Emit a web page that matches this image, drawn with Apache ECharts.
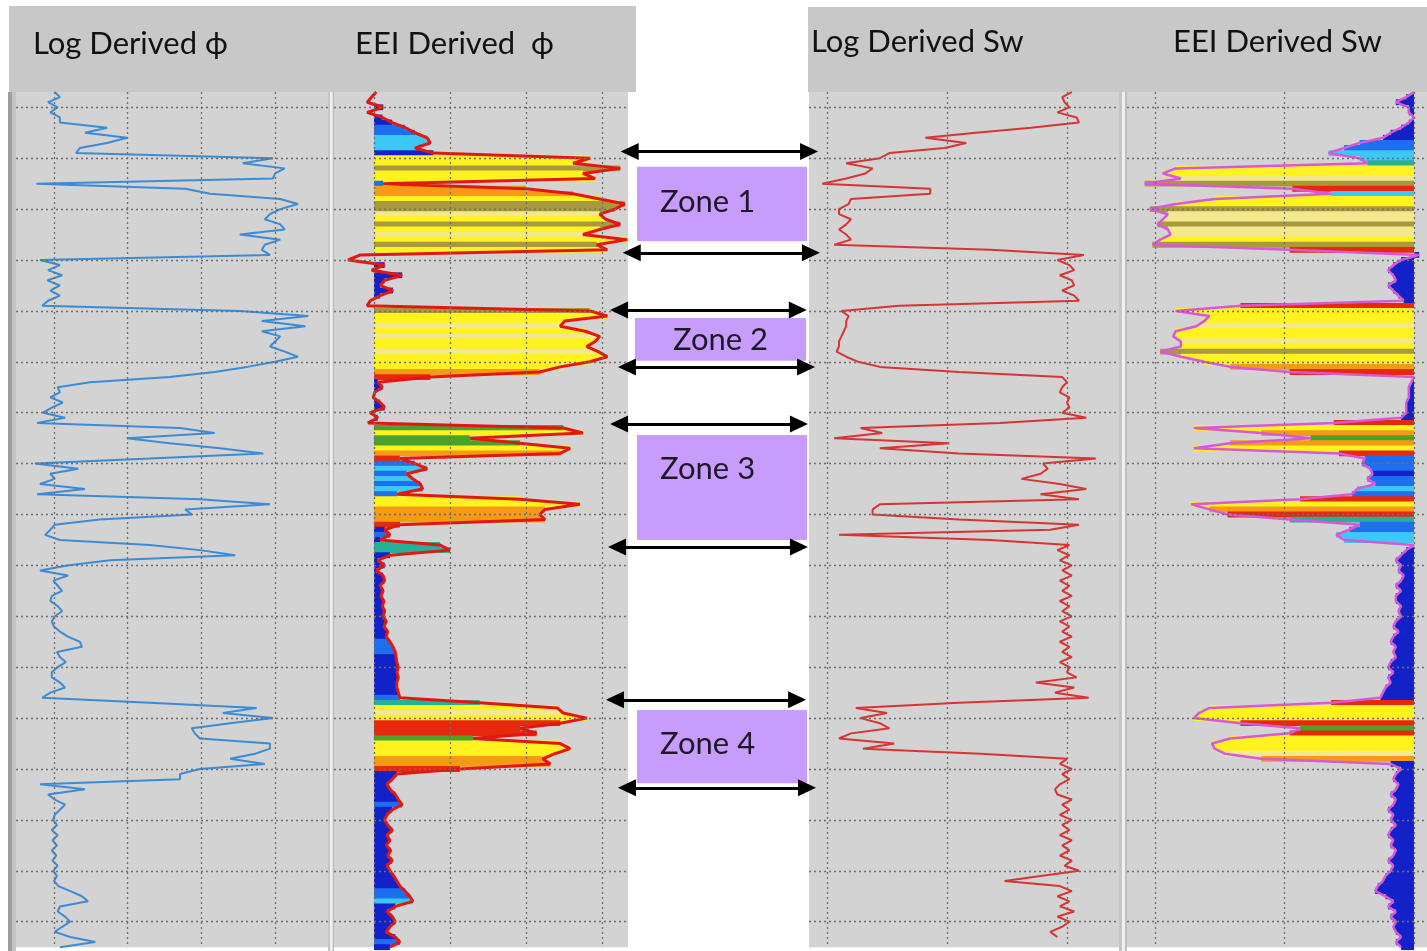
<!DOCTYPE html>
<html><head><meta charset="utf-8">
<script src="https://cdn.jsdelivr.net/npm/echarts@6/dist/echarts.min.js"></script>
<style>html,body{margin:0;padding:0;background:#fff}#c{width:1427px;height:951px}</style>
</head><body><div id="c"></div>
<script>
// ---------------- DATA ----------------
// sample depths (arbitrary depth units, 10 units between horizontal grid lines)
const depth = [
  7,8,9,10,11,12,13,14,15,16,
  17,18,19,20,21,22,23,24,25,26,
  27,28,29,30,31,32,33,34,35,36,
  37,38,39,40,41,42,43,44,45,46,
  47,48,49,50,51,52,53,54,55,56,
  57,58,59,60,61,62,63,64,65,66,
  67,68,69,70,71,72,73,74,75,76,
  77,78,79,80,81,82,83,84,85,86,
  87,88,89,90,91,92,93,94,95,96,
  97,98,99,100,101,102,103,104,105,106,
  107,108,109,110,111,112,113,114,115,116,
  117,118,119,120,121,122,123,124,125,126,
  127,128,129,130,131,132,133,134,135,136,
  137,138,139,140,141,142,143,144,145,146,
  147,148,149,150,151,152,153,154,155,156,
  157,158,159,160,161,162,163,164,165,166,
  167,168,169,170,171,172,173,174,175
];
// Log derived porosity (%)
const phiLog = [
  0.1,0.8,-0.8,0.5,-0.5,0.8,0.8,7.2,4.2,9.9,
  7.2,3.5,3.0,29.7,25.6,31.3,30.0,29.7,-2.4,17.8,
  21.2,30.7,33.1,30.7,29.3,28.6,30.7,31.3,25.2,30.7,
  28.6,28.2,29.3,-1.9,0.8,-0.8,1.1,-0.9,0.8,-0.5,
  0.8,-0.8,-1.6,25.2,34.5,28.2,34.1,28.2,30.7,30.0,
  29.3,31.3,33.1,30.0,26.2,21.8,15.7,4.9,0.5,0.8,
  -0.5,1.2,-0.3,-1.5,1.5,-2.3,17.1,21.8,9.9,15.7,
  22.5,28.4,13.0,-2.6,3.3,-0.5,0.1,-1.9,4.2,-2.3,
  19.8,29.3,17.8,18.7,6.2,0.1,-0.5,-1.2,0.8,13.0,
  19.8,24.6,7.6,1.8,-1.9,1.9,-0.1,0.5,1.1,-0.3,
  -0.5,0.5,1.1,0.1,-0.3,0.0,0.8,1.9,3.5,3.8,
  0.4,0.8,1.6,0.5,-0.3,-0.3,0.8,1.5,-0.5,-1.6,
  13.0,27.5,22.9,29.7,23.9,18.7,19.1,19.8,29.3,29.3,
  27.3,23.9,28.6,19.8,17.1,17.1,-1.9,4.2,-0.8,0.1,
  1.5,0.8,0.1,-0.1,0.4,-0.3,0.5,-0.2,0.4,-0.3,
  0.3,-0.2,0.5,-0.1,0.4,0.0,0.6,2.2,3.8,4.6,
  0.8,0.5,1.5,2.2,1.1,0.1,2.2,5.6,0.8
];
// EEI derived porosity (%)
const phiEEI = [
  0.3,-0.3,-0.9,1.2,-0.9,1.1,2.4,4.1,5.4,7.0,
  7.4,5.4,7.8,28.4,26.2,32.4,27.5,29.1,1.2,20.0,
  26.2,29.7,33.0,31.7,29.7,30.5,32.4,29.7,27.5,33.3,
  29.3,30.7,-1.8,-3.4,1.4,-0.3,3.7,1.4,0.8,2.5,
  0.8,-0.5,-0.9,28.4,30.7,25.1,24.5,27.8,29.7,29.1,
  28.0,29.5,30.7,28.4,24.5,21.8,7.4,0.5,1.1,0.1,
  -0.1,0.8,1.4,-0.5,0.5,-0.8,24.9,27.5,12.6,19.2,
  25.8,24.5,3.4,5.4,7.0,4.3,5.1,6.1,6.4,3.0,
  19.2,27.1,22.5,21.8,22.5,3.4,1.4,2.1,0.8,8.7,
  10.0,2.1,0.5,1.4,0.3,1.2,1.4,0.8,1.2,0.9,
  1.3,1.1,1.4,1.2,1.6,1.3,1.8,1.6,2.1,2.5,
  2.8,2.9,3.0,3.2,3.0,3.2,3.0,3.0,3.2,3.4,
  13.9,24.1,24.9,28.0,24.5,19.2,21.4,13.0,24.5,25.8,
  23.8,22.2,23.2,11.3,3.0,2.4,1.7,2.1,2.8,3.2,
  3.7,2.4,1.7,1.4,1.8,2.4,1.7,2.1,1.6,2.2,
  1.8,2.4,1.7,2.1,2.6,3.0,3.4,4.1,4.7,5.1,
  2.8,1.7,2.4,2.8,2.1,1.6,2.8,3.4,2.1
];
// EEI porosity colour class per depth
const phiEEIFacies = [
  "---d-ddbbc","ccdyyoyybn","nyoowyoywy","oy--d-dddd","d--oyywywy",
  "ywyyynrddd","-dd-d-gygg","ynrbcbcbcb","yynnnrdbdt","tddddddddd",
  "ddddddddbb","bddddddddb","tywyrrrgyy","ynnrdddddd","bddddddddd",
  "dddddddbbc","dddddddbd"
].join('');
// Log derived water saturation (fraction)
const swLog = [
  1.02,0.98,0.99,1.01,0.96,1.04,1.05,0.85,0.62,0.41,
  0.58,0.49,0.26,0.22,0.08,0.19,0.16,0.08,-0.02,0.43,
  0.43,0.10,0.09,0.05,0.05,0.10,0.08,0.05,0.08,0.10,
  0.03,0.68,1.07,0.96,1.01,1.03,0.97,1.02,1.03,0.98,
  1.03,1.05,0.30,0.06,0.09,0.08,0.08,0.07,0.06,0.05,
  0.05,0.04,0.08,0.13,0.22,0.55,0.98,1.00,0.98,0.97,
  1.01,1.00,1.01,0.98,1.08,0.72,0.14,0.23,0.03,0.51,
  0.22,0.55,1.12,0.90,0.92,0.89,0.81,0.97,1.08,0.89,
  1.05,0.22,0.19,0.19,0.55,1.05,0.93,0.05,0.68,1.01,
  0.96,1.01,0.97,1.02,0.98,1.02,0.97,1.01,0.98,1.02,
  0.97,1.01,0.98,1.02,0.97,1.01,0.98,1.02,0.97,1.01,
  0.98,1.02,0.97,1.01,1.00,1.04,0.87,1.03,0.95,1.09,
  0.55,0.12,0.25,0.14,0.22,0.26,0.10,0.05,0.28,0.15,
  0.64,1.00,0.97,1.02,0.98,1.01,0.97,0.95,0.96,1.02,
  0.98,1.01,0.97,1.02,0.98,1.01,0.97,1.02,0.98,1.01,
  0.97,1.02,0.99,1.05,0.89,0.74,0.97,1.02,0.96,1.01,
  0.97,1.03,0.96,1.01,0.98,0.93,0.96,null,null
];
// EEI derived water saturation (fraction)
const swEEI = [
  1.00,0.97,0.93,0.98,0.98,1.00,0.98,0.95,0.91,0.88,
  0.79,0.73,0.67,0.79,0.82,0.08,0.03,0.10,-0.04,0.53,
  0.68,0.23,0.08,-0.02,0.05,0.03,0.01,0.05,0.06,0.02,
  -0.01,0.52,1.02,0.95,0.92,0.90,0.92,0.93,0.90,0.92,
  0.94,0.96,0.33,0.08,0.21,0.19,0.16,0.08,0.07,0.10,
  0.10,0.02,0.10,0.19,0.29,0.52,1.00,0.99,0.98,0.98,
  0.98,0.97,0.97,0.97,0.95,0.69,0.15,0.41,0.60,0.29,
  0.15,0.71,0.81,0.80,0.83,0.84,0.82,0.85,0.78,0.76,
  0.56,0.14,0.21,0.28,0.52,0.79,0.75,0.70,0.73,1.00,
  0.97,0.95,0.93,0.95,0.94,0.96,0.95,0.93,0.95,0.93,
  0.93,0.95,0.94,0.95,0.93,0.92,0.94,0.92,0.91,0.93,
  0.92,0.93,0.91,0.90,0.92,0.90,0.91,0.89,0.88,0.87,
  0.68,0.21,0.17,0.15,0.33,0.56,0.52,0.29,0.22,0.23,
  0.27,0.41,0.91,0.95,0.93,0.92,0.94,0.93,0.91,0.93,
  0.92,0.90,0.92,0.91,0.93,0.91,0.90,0.92,0.91,0.93,
  0.92,0.90,0.92,0.91,0.89,0.88,0.86,0.85,0.89,0.92,
  0.90,0.93,0.91,0.93,0.92,0.93,0.95,0.93,0.95
];
const swEEIFacies = [
  "dddddddddd","bbcctyywor","cyyowwowwy","ordddddddd","ddryyywyyw",
  "yoyynrdddd","dddddryngn","yrbbbdbbcb","rynrtbbccd","dddddddddd",
  "dddddddddd","dddddddddd","ryyyrgryyy","wndddddddd","dddddddddd",
  "dddddddddd","ddddddddd"
].join('');

const phiTicks = [0, 10, 20, 30];
const swTicks = [0, 0.5, 1];
const depthTicks = [10,20,30,40,50,60,70,80,90,100,110,120,130,140,150,160,170];
const headers = ['Log Derived \u03d5', 'EEI Derived  \u03d5', 'Log Derived Sw', 'EEI Derived Sw'];
const zoneNames = ['Zone 1', 'Zone 2', 'Zone 3', 'Zone 4'];
const zoneTop = [21.7, 51.4, 74.4, 128.4];
const zoneBase = [36.3, 59.8, 95.0, 142.8];
const arrowTop = [18.7, 49.8, 72.2, 126.4];
const arrowBase = [38.6, 61.0, 96.4, 143.7];

// ---------------- LAYOUT / STYLE ----------------
const TOP = 92.03, H = 855.12;
const tracks = [
  {left: 16, right: 328, zero: 54, ppu: 7.37},
  {left: 334, right: 628, zero: 374, ppu: 7.6},
  {left: 809, right: 1119, zero: 827, ppu: 240},
  {left: 1127, right: 1427, zero: 1155, ppu: 259}
];
// annotation panel (spans the white gap and a little of the neighbouring tracks)
const mid = {left: 600, right: 830};
const faciesColor = {d:'#1222c8', b:'#1e6ef0', c:'#3cc8f5', y:'#fff21e', w:'#f3e88e', o:'#a89a3c',
  r:'#e8280c', n:'#f59a14', g:'#4aa22a', t:'#26b09a', '-':'rgba(0,0,0,0)'};
const arrowTopX = [[0.129, 0.909], [0.083, 0.860], [0.083, 0.865], [0.065, 0.857]];
const arrowBaseX = [[0.138, 0.917], [0.117, 0.896], [0.074, 0.865], [0.117, 0.900]];
const zoneX = [[0.161, 0.900], [0.152, 0.896], [0.161, 0.900], [0.161, 0.900]];
const zoneLabelPos = [['insideLeft', -2], ['inside', 1], ['insideLeft', -19], ['insideLeft', -3]];
const headerPos = [[33, 44], [355, 44], [811, 42], [1173, 42]];
const FONT = 'Lato, "DejaVu Sans", sans-serif';

const ext = t => [(t.left - t.zero) / t.ppu, (t.right - t.zero) / t.ppu];
const cats = depth.map(String);

const grids = tracks.map(t => ({left: t.left, top: TOP, width: t.right - t.left, height: H,
  show: true, backgroundColor: '#d3d3d3', borderWidth: 0}));
grids.push({left: mid.left, top: TOP, width: mid.right - mid.left, height: H, show: false});

const xAxes = tracks.map((t, i) => ({type: 'value', gridIndex: i, min: ext(t)[0], max: ext(t)[1], show: false}));
const e3 = ext(tracks[3]);
xAxes.push({type: 'value', gridIndex: 3, min: 1 - e3[1], max: 1 - e3[0], inverse: true, show: false});
xAxes.push({type: 'value', gridIndex: 4, min: 0, max: 1, show: false});

const yAxes = tracks.map((t, i) => ({type: 'category', gridIndex: i, data: cats, boundaryGap: false, inverse: true, show: false}));
yAxes.push({type: 'value', gridIndex: 4, min: depth[0], max: depth[depth.length - 1], inverse: true, show: false});

function gridLines(xTicks) {
  return {
    silent: true, symbol: ['none', 'none'], animation: false,
    label: {show: false}, emphasis: {disabled: true},
    lineStyle: {color: '#6e6e6e', type: [2, 3], width: 1.3},
    data: xTicks.map(v => ({xAxis: v})).concat(depthTicks.map(d => ({yAxis: String(d)})))
  };
}

const arrowData = [];
for (let i = 0; i < zoneNames.length; i++) {
  arrowData.push([{coord: [arrowTopX[i][0], arrowTop[i]]}, {coord: [arrowTopX[i][1], arrowTop[i]]}]);
  arrowData.push([{coord: [arrowBaseX[i][0], arrowBase[i]]}, {coord: [arrowBaseX[i][1], arrowBase[i]]}]);
}
const zoneData = zoneNames.map((n, i) => [
  {name: n, coord: [zoneX[i][0], zoneTop[i]],
   label: {show: true, position: zoneLabelPos[i][0], distance: 23, offset: [0, zoneLabelPos[i][1]],
     color: '#1c1826', fontSize: 31, fontFamily: FONT}},
  {coord: [zoneX[i][1], zoneBase[i]]}
]);

const graphics = [
  {type: 'rect', shape: {x: 9, y: 6, width: 627, height: 86}, style: {fill: '#c8c8c8'}},
  {type: 'rect', shape: {x: 808, y: 7, width: 619, height: 85}, style: {fill: '#c8c8c8'}},
  {type: 'rect', shape: {x: 8, y: 92, width: 4, height: 859}, style: {fill: '#9e9e9e'}},
  {type: 'rect', shape: {x: 12, y: 92, width: 4, height: 859}, style: {fill: '#c4c4c4'}},
  {type: 'rect', shape: {x: 328, y: 92, width: 2, height: 859}, style: {fill: '#c4c4c4'}},
  {type: 'rect', shape: {x: 330, y: 92, width: 2.5, height: 859}, style: {fill: '#f2f2f2'}},
  {type: 'rect', shape: {x: 332.5, y: 92, width: 1.5, height: 859}, style: {fill: '#bdbdbd'}},
  {type: 'rect', shape: {x: 1119, y: 92, width: 3, height: 859}, style: {fill: '#c6c6c6'}},
  {type: 'rect', shape: {x: 1122, y: 92, width: 3, height: 859}, style: {fill: '#f0f0f0'}},
  {type: 'rect', shape: {x: 1125, y: 92, width: 2, height: 859}, style: {fill: '#bfbfbf'}}
].concat(headers.map((h, i) => ({
  type: 'text', x: headerPos[i][0], y: headerPos[i][1],
  style: {text: h, fill: '#111111', font: '31px ' + FONT, textVerticalAlign: 'middle', textAlign: 'left'}
})));

const option = {
  animation: false,
  backgroundColor: '#ffffff',
  grid: grids, xAxis: xAxes, yAxis: yAxes,
  graphic: graphics,
  series: [
    {type: 'line', xAxisIndex: 0, yAxisIndex: 0, data: phiLog, symbol: 'none', silent: true,
     lineStyle: {color: '#3b8bd6', width: 2}, itemStyle: {color: '#3b8bd6'}, markLine: gridLines(phiTicks)},
    {type: 'bar', xAxisIndex: 1, yAxisIndex: 1, silent: true, barWidth: '115%',
     data: phiEEI.map((v, i) => ({value: v, itemStyle: {color: v > 0 ? faciesColor[phiEEIFacies[i]] : 'rgba(0,0,0,0)'}})),
     markLine: gridLines(phiTicks)},
    {type: 'line', xAxisIndex: 1, yAxisIndex: 1, data: phiEEI, symbol: 'none', silent: true,
     lineStyle: {color: '#e3170f', width: 3}, itemStyle: {color: '#e3170f'}},
    {type: 'line', xAxisIndex: 2, yAxisIndex: 2, data: swLog, symbol: 'none', silent: true,
     lineStyle: {color: '#d83434', width: 2}, itemStyle: {color: '#d83434'}, markLine: gridLines(swTicks)},
    {type: 'bar', xAxisIndex: 4, yAxisIndex: 3, silent: true, barWidth: '115%',
     data: swEEI.map((v, i) => ({value: 1 - v, itemStyle: {color: faciesColor[swEEIFacies[i]]}}))},
    {type: 'line', xAxisIndex: 3, yAxisIndex: 3, data: swEEI, symbol: 'none', silent: true,
     lineStyle: {color: '#d858d8', width: 2.5}, itemStyle: {color: '#d858d8'}, markLine: gridLines(swTicks)},
    {type: 'line', xAxisIndex: 5, yAxisIndex: 4, data: [], clip: false, silent: true, z: 10,
     markLine: {silent: true, animation: false, symbol: ['triangle', 'triangle'], symbolSize: [17, 18],
       label: {show: false}, emphasis: {disabled: true},
       lineStyle: {color: '#000000', width: 3, type: 'solid'},
       itemStyle: {color: '#000000'}, data: arrowData},
     markArea: {silent: true, animation: false, itemStyle: {color: '#c89cfc'}, emphasis: {disabled: true}, data: zoneData}}
  ]
};
const chart = echarts.init(document.getElementById('c'), null, {renderer: 'canvas'});
chart.setOption(option);
</script></body></html>
